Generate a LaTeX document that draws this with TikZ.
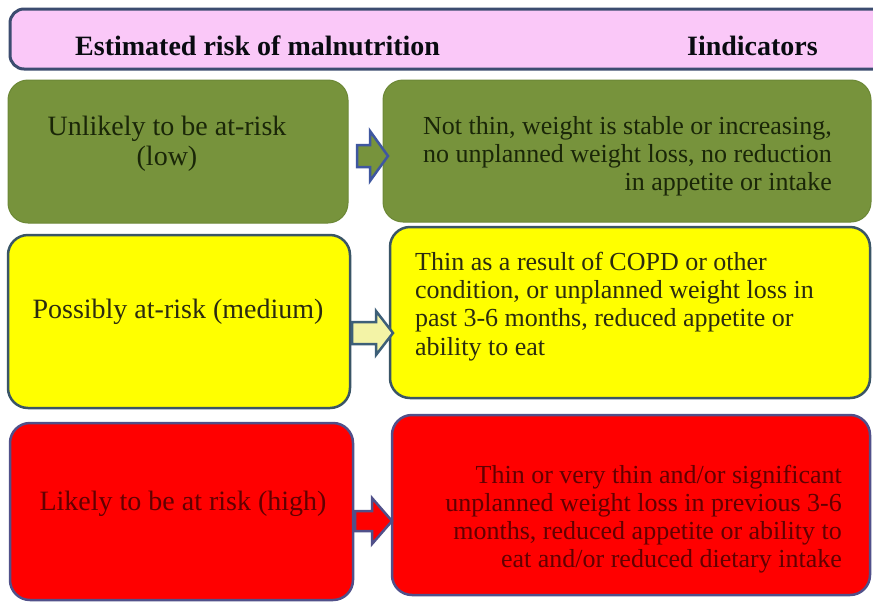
\documentclass[tikz,border=0pt]{standalone}
\usepackage{fontspec}
\setmainfont{LiberationSerif}[Extension=.ttf,UprightFont=*-Regular,BoldFont=*-Bold,ItalicFont=*-Italic,BoldItalicFont=*-BoldItalic]
\definecolor{hdrfill}{HTML}{FAC8F8}
\definecolor{hdrline}{HTML}{3C4C70}
\definecolor{grn}{HTML}{77933C}
\definecolor{grnline}{HTML}{6C8836}
\definecolor{grntext}{HTML}{1A2608}
\definecolor{yel}{HTML}{FFFF00}
\definecolor{yelline}{HTML}{3A5566}
\definecolor{yeltext}{HTML}{2B2B10}
\definecolor{rd}{HTML}{FF0000}
\definecolor{rdline}{HTML}{50508A}
\definecolor{rdtext}{HTML}{620000}
\definecolor{arrblue}{HTML}{3F57A0}
\definecolor{arrtea}{HTML}{3D5F78}
\definecolor{arryel}{HTML}{F3F3A6}
\begin{document}
\begin{tikzpicture}[x=1pt,y=-1pt,
  boxbase/.style={rectangle,rounded corners=20pt,inner sep=0pt,outer sep=0pt},
  greenbox/.style={boxbase,fill=grn,draw=grnline,line width=1pt},
  yellowbox/.style={boxbase,fill=yel,draw=yelline,line width=2.5pt},
  redbox/.style={boxbase,fill=rd,draw=rdline,line width=2.5pt},
  lefttext/.style={inner sep=0pt,align=center,font=\rmfamily\fontsize{28}{30}\selectfont},
  righttext/.style={inner sep=0pt,font=\rmfamily\fontsize{26}{28.2}\selectfont},
  hdrtext/.style={inner sep=0pt,text=black!85!hdrline,font=\rmfamily\fontsize{28}{30}\selectfont\bfseries},
  blockarrow/.style={line width=2.5pt,line join=miter}]
\useasboundingbox (0,0) rectangle (873,603);
\clip (0,0) rectangle (873,603);
\fill[white] (0,0) rectangle (873,603);
% header
\draw[fill=hdrfill,draw=hdrline,line width=3pt,rounded corners=14pt] (10,9) rectangle (890,69);
\node[hdrtext,anchor=base west] (h1) at (75,55) {Estimated risk of malnutrition};
\node[hdrtext,anchor=base east] (h2) at (818,55) {Iindicators};
% boxes
\node[greenbox,minimum width=340pt,minimum height=143pt] (gl) at (178,151.5) {};
\node[greenbox,minimum width=488pt,minimum height=142pt] (gr) at (627,151) {};
\node[yellowbox,minimum width=342pt,minimum height=173pt] (yl) at (179,321.5) {};
\node[yellowbox,minimum width=480pt,minimum height=171pt] (yr) at (630,312.5) {};
\node[redbox,minimum width=343pt,minimum height=177pt] (rl) at (181.5,511.5) {};
\node[redbox,minimum width=478pt,minimum height=180pt] (rr) at (631,505) {};
% arrows
\draw[blockarrow,fill=grn,draw=arrblue] (357,145) -- (370,145) -- (370,131) -- (388,156) -- (370,181) -- (370,167) -- (357,167) -- cycle;
\draw[blockarrow,fill=arryel,draw=arrtea] (352,322) -- (376,322) -- (376,311) -- (393,333) -- (376,355) -- (376,344) -- (352,344) -- cycle;
\draw[blockarrow,fill=rd,draw=rdline] (355,511) -- (372,511) -- (372,498) -- (392,521) -- (372,544) -- (372,531) -- (355,531) -- cycle;
% texts
\node[lefttext,text=grntext] (tgl) at (167,144) {Unlikely to be at-risk\\(low)};
\node[lefttext,text=yeltext,anchor=base] (tyl) at (178,318) {Possibly at-risk (medium)};
\node[lefttext,text=rdtext,anchor=base] (trl) at (183,510) {Likely to be at risk (high)};
\node[righttext,text=grntext,align=right,anchor=east] (tgr) at (832,156) {Not thin, weight is stable or increasing,\\no unplanned weight loss, no reduction\\in appetite or intake};
\node[righttext,text=yeltext,align=left,anchor=west] (tyr) at (415,306.5) {Thin as a result of COPD or other\\condition, or unplanned weight loss in\\past 3-6 months, reduced appetite or\\ability to eat};
\node[righttext,text=rdtext,align=right,anchor=east] (trr) at (842,519) {Thin or very thin and/or significant\\unplanned weight loss in previous 3-6\\months, reduced appetite or ability to\\eat and/or reduced dietary intake};
\end{tikzpicture}
\end{document}
